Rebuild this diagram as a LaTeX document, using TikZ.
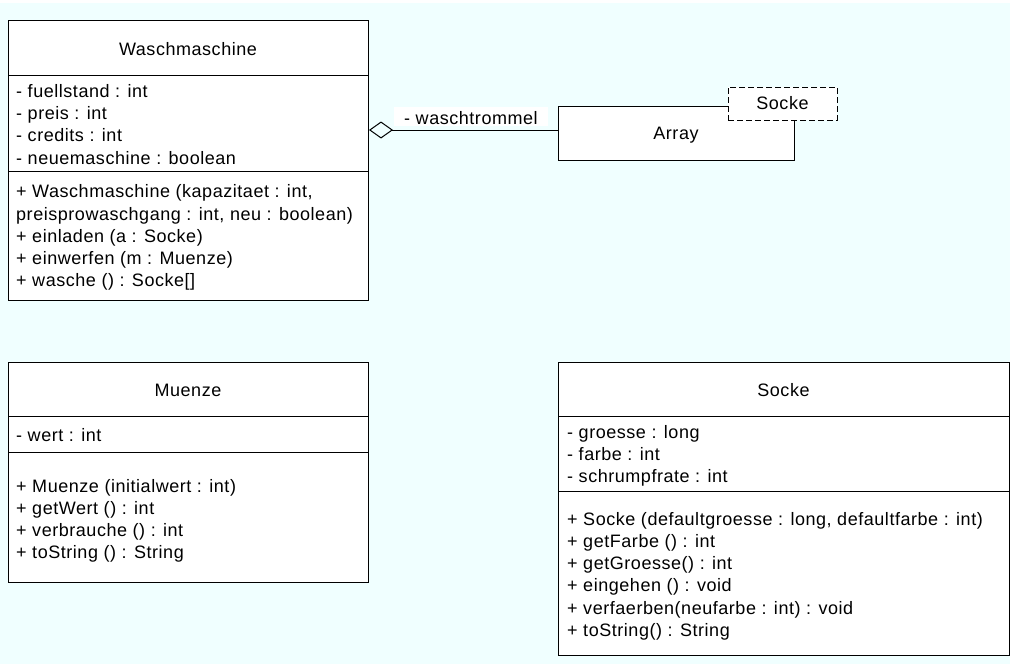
\documentclass[tikz,border=0pt]{standalone}
\usepackage{fontspec}
\setmainfont{Liberation Sans}[LetterSpace=3]
\usetikzlibrary{arrows.meta}
\definecolor{bgcyan}{RGB}{240,255,255}
\begin{document}
\begin{tikzpicture}[x=1pt,y=-1pt,
  every node/.style={font=\fontsize{18}{22}\selectfont, inner sep=0pt},
  classbox/.style={draw, line width=1pt, fill=white, anchor=north west},
  divider/.style={line width=1pt},
  txt/.style={anchor=base west},
  ttl/.style={anchor=base},
  assoc/.style={line width=1pt,
    -{Diamond[open, length=24pt, width=17pt, line width=1pt]}}]
% canvas
\useasboundingbox (0,0) rectangle (1010,664);
\fill[white] (0,0) rectangle (1010,664);
\fill[bgcyan] (0,3) rectangle (1010,664);

% ---------- Waschmaschine ----------
\node[classbox, minimum width=360pt, minimum height=280pt] (wm) at (8,20) {};
\draw[divider] (wm.west |- 0,75) -- (wm.east |- 0,75);
\draw[divider] (wm.west |- 0,171.7) -- (wm.east |- 0,171.7);
\node[ttl] (wmt) at (188,55) {Waschmaschine};
\foreach \t [count=\i from 0] in {{- fuellstand : int},{- preis : int},{- credits : int},{- neuemaschine : boolean}}
  \node[txt] (wma\i) at (16,{97.3+22.3*\i}) {\t};
\foreach \t [count=\i from 0] in {{+ Waschmaschine (kapazitaet : int,},{preisprowaschgang : int, neu : boolean)},{+ einladen (a : Socke)},{+ einwerfen (m : Muenze)},{+ wasche () : Socke[]}}
  \node[txt] (wmm\i) at (16,{197.7+22.3*\i}) {\t};

% ---------- Array<Socke> ----------
\node[draw, line width=1pt, fill=white, minimum width=236pt, minimum height=54pt,
  text height=12pt, text depth=0pt] (arr) at (676,133) {Array};
\node[draw, line width=1pt, dash pattern=on 6pt off 3pt, fill=white,
  minimum width=109pt, minimum height=33pt] (tp) at (782.5,103.5) {Socke};

% ---------- aggregation ----------
\coordinate (arrw) at ([yshift=3pt]arr.west);
\draw[assoc] (arrw) -- (arrw -| wm.east);
\node[fill=white, anchor=base west, inner xsep=10pt, inner ysep=0pt,
  text height=17pt, text depth=2pt] (role) at (394,124) {- waschtrommel};

% ---------- Muenze ----------
\node[classbox, minimum width=360pt, minimum height=220pt] (mz) at (8,362) {};
\draw[divider] (mz.west |- 0,416) -- (mz.east |- 0,416);
\draw[divider] (mz.west |- 0,452.7) -- (mz.east |- 0,452.7);
\node[ttl] (mzt) at (188,396) {Muenze};
\node[txt] (mza0) at (16,441.7) {- wert : int};
\foreach \t [count=\i from 0] in {{+ Muenze (initialwert : int)},{+ getWert () : int},{+ verbrauche () : int},{+ toString () : String}}
  \node[txt] (mzm\i) at (16,{492.5+21.9*\i}) {\t};

% ---------- Socke ----------
\node[classbox, minimum width=451pt, minimum height=293pt] (sk) at (558,362) {};
\draw[divider] (sk.west |- 0,416) -- (sk.east |- 0,416);
\draw[divider] (sk.west |- 0,491.7) -- (sk.east |- 0,491.7);
\node[ttl] (skt) at (783.5,396) {Socke};
\foreach \t [count=\i from 0] in {{- groesse : long},{- farbe : int},{- schrumpfrate : int}}
  \node[txt] (ska\i) at (567,{438.8+21.9*\i}) {\t};
\foreach \t [count=\i from 0] in {{+ Socke (defaultgroesse : long, defaultfarbe : int)},{+ getFarbe () : int},{+ getGroesse() : int},{+ eingehen () : void},{+ verfaerben(neufarbe : int) : void},{+ toString() : String}}
  \node[txt] (skm\i) at (567,{525.3+22.2*\i}) {\t};
\end{tikzpicture}
\end{document}
